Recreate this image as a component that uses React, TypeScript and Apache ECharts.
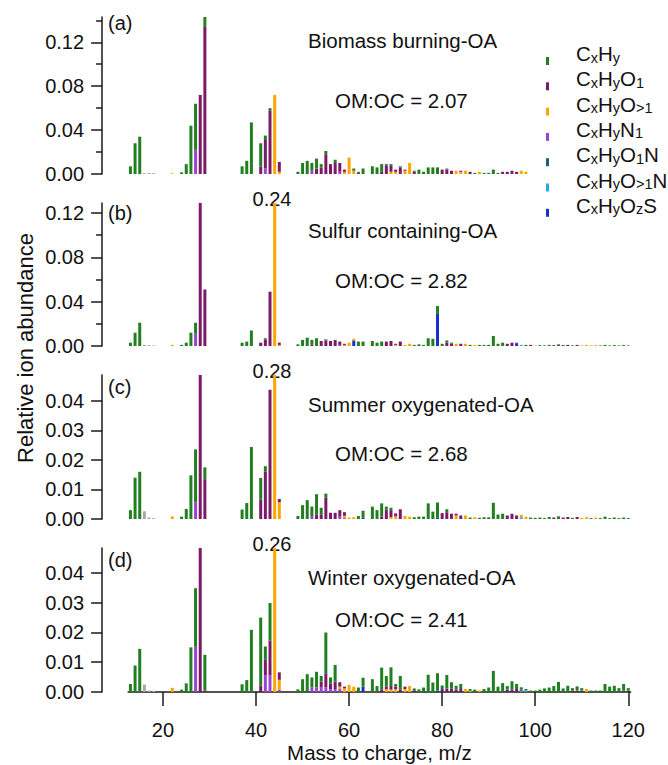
import React, { useEffect, useRef } from 'react';
import * as echarts from 'echarts';

// ---------- data ----------
// mass-to-charge positions (category axis)
const MZ_LIST: number[] = Array.from({ length: 108 }, (_, k) => 13 + k);

// category names (legend order) and colours
const CATEGORY_NAMES = ['CxHy', 'CxHyO1', 'CxHyO>1', 'CxHyN1', 'CxHyO1N', 'CxHyO>1N', 'CxHyOzS', 'Other'];
const CATEGORY_RICH = [
  '{b|C}{s|x}{b|H}{s|y}',
  '{b|C}{s|x}{b|H}{s|y}{b|O}{s|1}',
  '{b|C}{s|x}{b|H}{s|y}{b|O}{s|>1}',
  '{b|C}{s|x}{b|H}{s|y}{b|N}{s|1}',
  '{b|C}{s|x}{b|H}{s|y}{b|O}{s|1}{b|N}',
  '{b|C}{s|x}{b|H}{s|y}{b|O}{s|>1}{b|N}',
  '{b|C}{s|x}{b|H}{s|y}{b|O}{s|z}{b|S}',
];
const CATEGORY_COLORS = ['#217f21', '#7b1a68', '#ffa500', '#9b44d4', '#1f5b7c', '#23a9ee', '#1632c8', '#a8a8a8'];
// stacking order, bottom -> top (column index in rows, 1-based)
const STACK_ORDER = [8, 7, 6, 5, 4, 3, 2, 1];

// rows: [m/z, CxHy, CxHyO1, CxHyO>1, CxHyN1, CxHyO1N, CxHyO>1N, CxHyOzS, other]
const BBOA_ROWS: number[][] = [
  [13, .007], [14, .028], [15, .034], [16, 0, 0, 0, 0, 0, 0, 0, .0008], [17, 0, 0, 0, 0, 0, 0, 0, .001], [18, 0, 0, 0, 0, 0, 0, 0, .0008],
  [22, 0, 0, .0006], [24, .0015], [25, .009], [26, .044], [27, .042, 0, 0, .022], [28, 0, .072], [29, .009, .134],
  [37, .007], [38, .012], [39, .047], [41, .021, .007], [42, .004, .026, 0, .005], [43, .002, .058], [44, 0, 0, .072], [45, 0, .009, .002],
  [49, .002], [50, .010], [51, .012], [52, .007, 0, 0, .003], [53, .009, .005], [54, .003, .006], [55, .003, .018], [56, 0, .009],
  [57, .003, .010], [58, 0, .008, 0, .002], [59, 0, .002, .002], [60, 0, 0, .015], [61, .002, 0, .003], [62, .001, .001], [63, .005],
  [65, .007], [66, .006], [67, .007, .002], [68, .001, .008], [69, .001, .006, .002], [70, 0, .002, .002], [71, .001, .006],
  [72, 0, .001, .003], [73, 0, 0, .010], [74, .001, .002], [75, .004], [76, .002], [77, .006], [78, .006], [79, .006], [80, 0, .004],
  [81, .001, .004], [82, 0, .003], [83, 0, 0, .003], [84, 0, .001, .002], [85, 0, 0, .003], [86, 0, .002], [87, .001], [88, 0, 0, .002],
  [89, .001], [90, .001], [91, .004], [92, .001], [93, 0, .002], [94, 0, .002], [95, 0, .003], [96, 0, .002], [97, 0, 0, .003], [98, 0, 0, .002],
];

const SCOA_ROWS: number[][] = [
  [13, .003], [14, .012], [15, .021], [16, 0, 0, 0, 0, 0, 0, 0, .001], [17, 0, 0, 0, 0, 0, 0, 0, .0008], [18, 0, 0, 0, 0, 0, 0, 0, .0005],
  [22, 0, 0, .001], [24, .001], [25, .003], [26, .012], [27, .010, 0, 0, .011], [28, 0, .131], [29, 0, .051],
  [37, .003], [38, .004], [39, .014], [41, 0, .003], [42, .001, .006], [43, 0, .049], [44, 0, 0, .24], [45, 0, .002, .001],
  [49, .0015], [50, .0055], [51, .0075], [52, .004, .0015], [53, .007], [54, 0, .0045], [55, .001, .005], [56, 0, .0045],
  [57, .001, .0045], [58, 0, .003, 0, .001], [59, 0, .001, .001], [60, 0, 0, .003], [61, 0, 0, .0015, 0, 0, 0, .005], [62, .004], [63, .004],
  [65, .0045], [66, .003], [67, .004], [68, 0, .004], [69, 0, .0045], [70, 0, .001, .001], [71, 0, .004], [72, 0, 0, .001], [73, 0, 0, .002],
  [74, .001], [75, .0015], [76, .001], [77, .007], [78, .0065], [79, .007, 0, 0, 0, 0, 0, .029], [80, .002], [81, .002, .003], [82, .001, .002],
  [83, 0, 0, .002], [84, 0, .002], [85, 0, 0, .002], [86, .001], [87, 0, 0, .001], [88, .001], [89, .001], [90, .001], [91, .009], [92, .002],
  [93, .003], [94, 0, .002], [95, 0, .003], [96, 0, .001, 0, 0, 0, 0, .002], [97, 0, 0, 0, 0, 0, .001], [98, .001], [99, 0, .001],
  [100, 0, 0, .0005], [101, .0008], [102, 0, .0005], [103, .001], [104, 0, .0008], [105, .0015], [106, 0, .0008], [107, 0, .001], [108, .0006],
  [109, 0, .001], [110, 0, 0, .0006], [111, 0, 0, .001], [112, 0, 0, .0006], [113, 0, 0, .0008], [114, .0005], [115, .001], [116, .0005],
  [117, .0008], [118, .0005], [119, .0008], [120, .0005],
];

const SOOA_ROWS: number[][] = [
  [13, .003], [14, .014], [15, .016], [16, 0, 0, 0, 0, 0, 0, 0, .0026], [17, 0, 0, 0, 0, 0, 0, 0, .0005], [18, 0, 0, 0, 0, 0, 0, 0, .0003],
  [22, 0, 0, .0009], [24, .0008], [25, .0034], [26, .0148], [27, .018, 0, 0, .0056], [28, 0, .050], [29, .004, .0135],
  [37, .0032], [38, .0054], [39, .0244], [41, .0074, .0065], [42, .0019, .016], [43, 0, .0438], [44, 0, 0, .28], [45, 0, .0011, .0057],
  [49, .001], [50, .0047], [51, .0064], [52, .0032, 0, 0, .001], [53, .0068, .0016], [54, .0022, .0016], [55, .0014, .0072], [56, 0, .0021],
  [57, 0, .0021], [58, 0, .0022, 0, .0008], [59, 0, .0012, .0008, .0003], [60, 0, 0, .0005], [61, 0, 0, .0006], [62, .001],
  [63, .0024, 0, 0, 0, 0, 0, .0004], [65, .0042], [66, .003], [67, .0045, .0008], [68, .001, .0032], [69, .0008, .0024, .0006],
  [70, 0, .001, .0009], [71, 0, .0033], [72, 0, 0, .001], [73, 0, 0, .0008], [74, .0006], [75, .0008], [76, .0008], [77, .0053],
  [78, .0025], [79, .0052, 0, 0, 0, 0, 0, .0004], [80, 0, .002], [81, .001, .0023], [82, 0, .0018], [83, 0, .0006, .0012], [84, 0, .0012],
  [85, 0, 0, .0012], [86, .0005], [87, 0, 0, .0006], [88, .0004], [89, .0006], [90, .0006], [91, .0055], [92, .0015], [93, .0018],
  [94, 0, .0012], [95, 0, .0018], [96, 0, .0012], [97, 0, 0, .0008, 0, 0, .0006], [98, 0, 0, .0008], [99, .0005], [100, .0004],
  [101, .0005], [102, .0003], [103, .0007], [104, 0, .0005], [105, .0009], [106, 0, .0005], [107, 0, .0007], [108, .0004], [109, 0, .0007],
  [110, 0, 0, .0004], [111, 0, 0, .0006], [112, .0003], [113, 0, 0, .0005], [114, .0003], [115, .0008], [116, .0003], [117, .0005],
  [118, .0003], [119, .0005], [120, .0003],
];

const WOOA_ROWS: number[][] = [
  [13, .0027], [14, .0089], [15, .0145], [16, 0, 0, 0, 0, 0, 0, 0, .0025], [17, 0, 0, 0, 0, 0, 0, 0, .0005], [18, 0, 0, 0, 0, 0, 0, 0, .0004],
  [22, 0, 0, .0014], [24, .0008], [25, .0029], [26, .015], [27, .0197, 0, 0, .0152], [28, 0, .050], [29, .012, .0005],
  [37, .0026], [38, .004], [39, .0209], [41, .0229, .0021], [42, .0043, .0053, 0, .0057], [43, .0126, .0116, 0, .0057], [44, 0, 0, .26],
  [45, 0, .0025, .0034, .0007], [49, .0009], [50, .0043], [51, .006], [52, .0033, 0, 0, .0016], [53, .0052, 0, 0, .0016],
  [54, .0019, .0019, 0, .0016], [55, .0137, .0047, 0, .0016], [56, .002, .002, 0, .0009], [57, .0056, .0025, 0, .001],
  [58, 0, .0015, .0008, .001], [59, 0, .0006, .0012], [60, 0, 0, .0024], [61, 0, 0, .0018], [62, .0015], [63, .003, 0, 0, 0, 0, 0, .0018],
  [65, .0043], [66, .002], [67, .0073, .0009], [68, .0035, .001, .0009], [69, .0063, .0012, .0008], [70, .0008, .001, .0009],
  [71, .0045, .0009], [72, 0, .0008, .001], [73, 0, 0, .002], [74, .0006, .0006], [75, .0009], [76, .0015], [77, .0058], [78, .0032],
  [79, .0058, 0, 0, 0, 0, 0, .0005], [80, .0012, .001], [81, .0045, .0012], [82, .0021, .0012], [83, .0013, .0008], [84, .0017, .001],
  [85, 0, 0, .001], [86, .0006, 0, .0004], [87, .0008], [88, 0, 0, .0006], [89, .001], [90, .0015], [91, .0071], [92, .0018], [93, .003],
  [94, .0012, .0008], [95, .0028, .0008], [96, .0017, .001], [97, .0008, .0004, 0, 0, 0, .0004], [98, .0005, 0, 0, 0, 0, .0005],
  [99, .0005], [100, .0005], [101, .0008], [102, .0012], [103, .0015], [104, .002], [105, .0034], [106, .0012], [107, .0021],
  [108, .0008, .0005], [109, .0014, .0005], [110, .0008, .0005], [111, 0, 0, .001], [112, .0005], [113, .0005], [114, .0005],
  [115, .0027], [116, .0018], [117, .0021], [118, .0013], [119, .0022, .0005], [120, .0008, .0005],
];

const PANEL_ROWS = [BBOA_ROWS, SCOA_ROWS, SOOA_ROWS, WOOA_ROWS];
const PANEL_TAGS = ['(a)', '(b)', '(c)', '(d)'];
const PANEL_TITLES = ['Biomass burning-OA', 'Sulfur containing-OA', 'Summer oxygenated-OA', 'Winter oxygenated-OA'];
const PANEL_OMOC = ['2.07', '2.82', '2.68', '2.41'];
const PANEL_YMAX = [0.143, 0.129, 0.0488, 0.0484];
const PANEL_YTICKS = [
  [0, 0.04, 0.08, 0.12],
  [0, 0.04, 0.08, 0.12],
  [0, 0.01, 0.02, 0.03, 0.04],
  [0, 0.01, 0.02, 0.03, 0.04],
];
const X_TICKS = [20, 40, 60, 80, 100, 120];

// ---------- layout ----------
const FONT = '"Liberation Sans", Arial, Helvetica, sans-serif';
const GRID_LEFT = 128.1;
const GRID_RIGHT = 37.4;
const LAYOUT = [
  { top: 17, height: 157, tagY: 22.5, titleY: 40, omocY: 100, interval: 0.04, minor: true },
  { top: 203, height: 143, tagY: 212.5, titleY: 230, omocY: 280, interval: 0.04, minor: true },
  { top: 375, height: 144, tagY: 387, titleY: 404, omocY: 453, interval: 0.01, minor: false },
  { top: 548, height: 144, tagY: 559.5, titleY: 577, omocY: 619, interval: 0.01, minor: false },
];
const AXIS_COLOR = '#1a1a1a';

function buildOption() {
  const grid: any[] = [];
  const xAxis: any[] = [];
  const yAxis: any[] = [];
  const series: any[] = [];
  const graphic: any[] = [];
  const isXTick = (_idx: number, val: any) => X_TICKS.indexOf(Number(val)) >= 0;

  PANEL_ROWS.forEach((rows, i) => {
    const L = LAYOUT[i];
    grid.push({ left: GRID_LEFT, right: GRID_RIGHT, top: L.top, height: L.height, outerBoundsMode: 'none', containLabel: false });
    const isLast = i === PANEL_ROWS.length - 1;
    xAxis.push({
      type: 'category',
      gridIndex: i,
      data: MZ_LIST.map(String),
      boundaryGap: true,
      show: isLast,
      offset: isLast ? 6 : 0,
      splitLine: { show: false },
      axisLine: { show: true, lineStyle: { color: AXIS_COLOR, width: 1.5 } },
      axisTick: { show: true, length: 14, inside: false, alignWithLabel: true, interval: isXTick, lineStyle: { color: AXIS_COLOR, width: 1.5 } },
      axisLabel: { interval: isXTick, fontSize: 20, color: '#111', fontFamily: FONT, margin: 22 },
      name: isLast ? 'Mass to charge, m/z' : '',
      nameLocation: 'middle',
      nameGap: 44,
      nameTextStyle: { fontSize: 20.5, lineHeight: 20, color: '#111', fontFamily: FONT },
    });
    const ticks = PANEL_YTICKS[i];
    yAxis.push({
      type: 'value',
      gridIndex: i,
      min: 0,
      max: PANEL_YMAX[i],
      interval: L.interval,
      offset: 26,
      splitLine: { show: false },
      axisLine: { show: true, lineStyle: { color: AXIS_COLOR, width: 1.5 } },
      axisTick: { show: true, length: 11, inside: false, customValues: ticks, lineStyle: { color: AXIS_COLOR, width: 1.5 } },
      minorTick: { show: L.minor, splitNumber: 2, length: 6, lineStyle: { color: AXIS_COLOR, width: 1.5 } },
      axisLabel: {
        customValues: ticks,
        fontSize: 20,
        color: '#111',
        fontFamily: FONT,
        margin: 18,
        formatter: (v: number) => {
          const k = v / L.interval;
          return Math.abs(k - Math.round(k)) < 1e-6 ? v.toFixed(2) : '';
        },
      },
    });

    const byMz = new Map<number, number[]>();
    rows.forEach((r) => byMz.set(r[0], r));
    STACK_ORDER.forEach((col) => {
      series.push({
        type: 'bar',
        name: CATEGORY_NAMES[col - 1],
        xAxisIndex: i,
        yAxisIndex: i,
        stack: 'p' + i,
        barWidth: 3,
        clip: true,
        silent: true,
        itemStyle: { color: CATEGORY_COLORS[col - 1] },
        data: MZ_LIST.map((mz) => {
          const r = byMz.get(mz);
          return r && r[col] ? r[col] : 0;
        }),
      });
    });

    // panel texts
    graphic.push({ type: 'text', x: 108, y: L.tagY, style: { text: PANEL_TAGS[i], font: `20px ${FONT}`, fill: '#111', verticalAlign: 'middle' } });
    graphic.push({ type: 'text', x: 308, y: L.titleY, style: { text: PANEL_TITLES[i], font: `20.5px ${FONT}`, fill: '#111', verticalAlign: 'middle' } });
    graphic.push({ type: 'text', x: 335, y: L.omocY, style: { text: 'OM:OC = ' + PANEL_OMOC[i], font: `20.5px ${FONT}`, fill: '#111', verticalAlign: 'middle' } });

    // off-scale peak label (m/z 44)
    const r44 = byMz.get(44);
    const peak = r44 ? r44.slice(1).reduce((a, b) => a + (b || 0), 0) : 0;
    if (peak > PANEL_YMAX[i]) {
      graphic.push({ type: 'text', x: 272, y: L.top - 4, style: { text: peak.toFixed(2), font: `20px ${FONT}`, fill: '#111', align: 'center', verticalAlign: 'middle' } });
    }
  });

  // legend (drawn as graphic so that subscripts are possible)
  CATEGORY_RICH.forEach((rich, k) => {
    const capTop = 50 + 25.3 * k;
    graphic.push({ type: 'rect', shape: { x: 546, y: capTop + 7, width: 3, height: 8 }, style: { fill: CATEGORY_COLORS[k] } });
    graphic.push({
      type: 'text',
      x: 576,
      y: capTop - 7,
      style: {
        text: rich,
        verticalAlign: 'top',
        rich: {
          b: { fontSize: 20.5, fontFamily: FONT, fill: '#111', verticalAlign: 'top', lineHeight: 22 },
          s: { fontSize: 14.5, fontFamily: FONT, fill: '#111', verticalAlign: 'bottom', lineHeight: 14, padding: [13, 0, 0, 0] },
        },
      },
    });
  });

  // y axis title
  graphic.push({
    type: 'text',
    x: 25,
    y: 348,
    rotation: Math.PI / 2,
    style: { text: 'Relative ion abundance', font: `22px ${FONT}`, fill: '#111', align: 'center', verticalAlign: 'middle' },
  });

  return {
    animation: false,
    backgroundColor: '#ffffff',
    grid,
    xAxis,
    yAxis,
    series,
    graphic,
  };
}

export default function App() {
  const ref = useRef<HTMLDivElement>(null);
  useEffect(() => {
    document.body.style.margin = '0';
    if (!ref.current) return;
    const chart = echarts.init(ref.current, undefined, { renderer: 'svg' });
    chart.setOption(buildOption() as any);
    return () => chart.dispose();
  }, []);
  return <div ref={ref} style={{ width: 668, height: 765 }} />;
}
